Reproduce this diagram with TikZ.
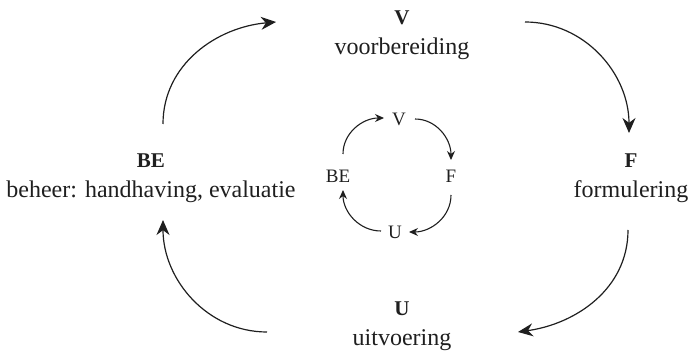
\documentclass[tikz,border=0pt]{standalone}
\usepackage{fontspec}
\setmainfont{Liberation Serif}
\usetikzlibrary{arrows.meta, calc}

\newcommand{\fase}[1]{{\fontsize{10.5}{15}\selectfont\bfseries #1}}

\begin{document}
\begin{tikzpicture}[
        x=0.5pt, y=0.5pt,
        stage/.style={align=center, inner sep=0pt, text=black!88, font=\fontsize{12}{15}\selectfont},
        short/.style={inner sep=0pt, text=black!88, font=\fontsize{9.5}{11}\selectfont},
        line/.style={draw=black!88, line width=0.6pt, -{Stealth[length=7.5pt, width=6.5pt]}},
        innerline/.style={draw=black!88, line width=0.55pt, -{Stealth[length=4.5pt, width=4pt]}}
    ]
    \useasboundingbox (0,0) rectangle (692,-353);

    % Outer cycle
    \node[stage] (v) at (402,-35) {\fase{V}\\voorbereiding};
    \node[stage] (f) at (631,-178) {\fase{F}\\formulering};
    \node[stage] (u) at (402,-326) {\fase{U}\\uitvoering};
    \node[stage] (be) at (151,-178) {\fase{BE}\\beheer: handhaving, evaluatie};

    \path[line] ($(be)+(12,54)$) to[out=90, in=185] ($(v)+(-126,13)$);
    \path[line] ($(v)+(123,13)$) to[out=0, in=90] ($(f)+(-2,45)$);
    \path[line] ($(f)+(-3,-52)$) to[out=-90, in=8] ($(u)+(116,-6)$);
    \path[line] ($(u)+(-135,-6)$) to[out=180, in=-90] ($(be)+(12,-42)$);

    % Inner cycle
    \node[short] (iv) at (399,-119) {V};
    \node[short] (if) at (451,-176) {F};
    \node[short] (iu) at (395,-232) {U};
    \node[short] (ibe) at (338,-176) {BE};

    \path[innerline] ($(ibe)+(5,22)$) to[out=90, in=180] ($(iv)+(-15,1)$);
    \path[innerline] ($(iv)+(16,0)$) to[out=0, in=90] ($(if)+(0,16)$);
    \path[innerline] ($(if)+(0,-19)$) to[out=-90, in=0] ($(iu)+(14,0)$);
    \path[innerline] ($(iu)+(-14,1)$) to[out=180, in=-90] ($(ibe)+(5,-14)$);
\end{tikzpicture}
\end{document}
